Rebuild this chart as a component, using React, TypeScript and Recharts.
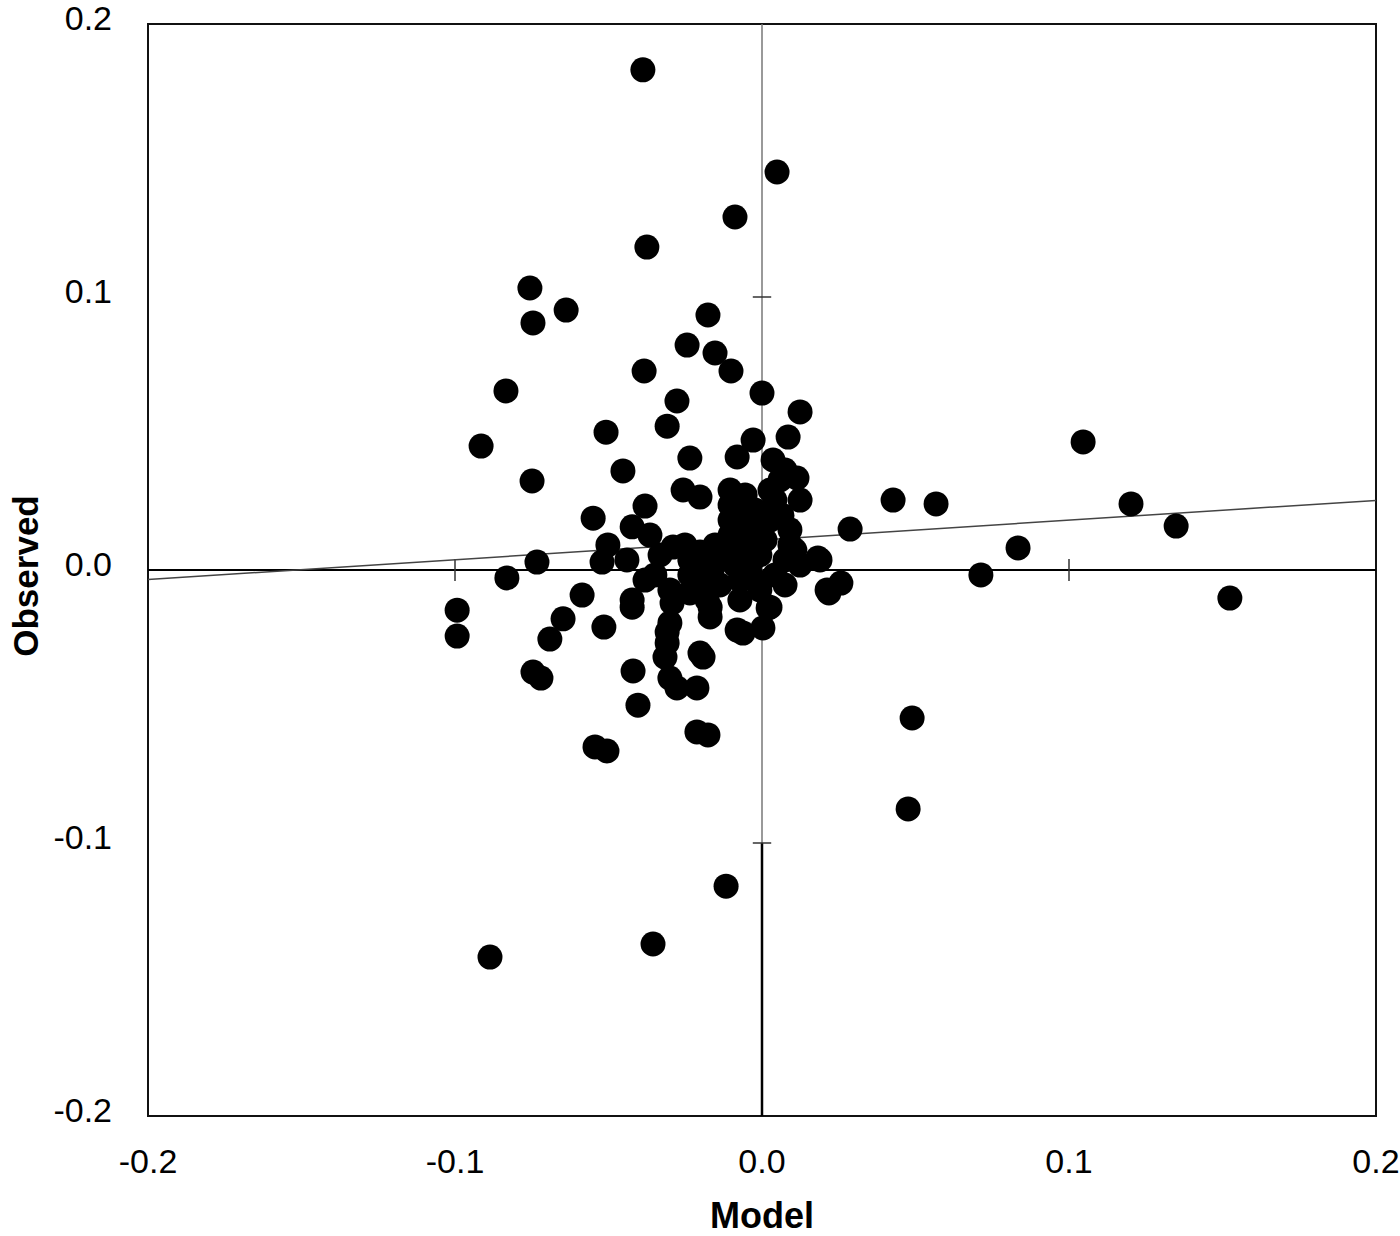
import React from "react";
import {
  ScatterChart,
  Scatter,
  XAxis,
  YAxis,
  ReferenceLine,
  ReferenceArea,
  Label,
} from "recharts";

// Model (x) values
const modelValues: number[] = [
  -0.0388, 0.0049, -0.0088, -0.0375, -0.0756, -0.0746, -0.0638, -0.0176, -0.0244, -0.0153,
  -0.0101, -0.0384, -0.0834, 0.0, -0.0277, 0.0124, -0.0309, -0.0508, -0.0915, -0.0029,
  0.1046, 0.0085, -0.0081, -0.0235, 0.0036, -0.0453, -0.0749, 0.0114, -0.0257, -0.0202,
  -0.0381, 0.0427, 0.0567, 0.1202, 0.1349, 0.0287, -0.055, -0.0423, -0.0502, -0.0365,
  -0.0733, -0.0521, -0.044, 0.0834, 0.0182, -0.0831, 0.0713, 0.0257, 0.0218, 0.1524,
  -0.0586, -0.0993, -0.0993, -0.0423, -0.0423, -0.0648, -0.0515, -0.0691, -0.0746, -0.072,
  -0.042, -0.0404, -0.0544, -0.0505, -0.0212, -0.0176, 0.0489, 0.0476, -0.0117, -0.0355,
  -0.0886, -0.03, -0.029, -0.0251, -0.0202, -0.0235, -0.0179, -0.0169, -0.03, -0.0309,
  -0.0202, -0.0081, -0.0293, -0.0169, -0.0309, -0.0062, 0.002, 0.0003, -0.0316, -0.0192,
  -0.03, -0.0277, -0.0212, 0.0189, 0.0212, 0.0026, -0.0235, -0.0349, -0.0381, -0.0104,
  -0.0104, -0.0104, -0.0104, -0.0098, -0.0088, -0.0072, -0.0055, -0.0055, -0.0046, -0.0039,
  -0.0023, -0.0007, 0.001, 0.0026, 0.0042, 0.0059, 0.0075, 0.0065, 0.0091, 0.0107,
  0.0075, 0.0042, -0.0137, -0.0163, -0.0202, -0.0235, -0.0137, -0.0007, -0.0072, 0.0075,
  0.0124, -0.0153, -0.0332, -0.0169, -0.0023, 0.0026, 0.0124, -0.0072, -0.0007, 0.0091,
  -0.0039,
];

// Observed (y) values
const observedValues: number[] = [
  0.1832, 0.1458, 0.1293, 0.1183, 0.1033, 0.0905, 0.0952, 0.0934, 0.0824, 0.0795,
  0.0729, 0.0729, 0.0656, 0.0648, 0.0619, 0.0579, 0.0527, 0.0505, 0.0454, 0.0476,
  0.0469, 0.0487, 0.0414, 0.041, 0.0403, 0.0363, 0.0326, 0.0337, 0.0293, 0.0267,
  0.0234, 0.0256, 0.0242, 0.0242, 0.0161, 0.015, 0.019, 0.0158, 0.0092, 0.0128,
  0.0029, 0.0029, 0.0037, 0.0081, 0.0044, -0.0029, -0.0018, -0.0048, -0.0084, -0.0103,
  -0.0092, -0.0147, -0.0242, -0.011, -0.0136, -0.0179, -0.0209, -0.0253, -0.0374, -0.0396,
  -0.037, -0.0495, -0.0648, -0.0663, -0.0593, -0.0604, -0.0542, -0.0875, -0.1158, -0.137,
  -0.1418, -0.0073, 0.0084, 0.0092, 0.0066, -0.0084, -0.011, -0.0172, -0.0194, -0.0267,
  -0.0304, -0.022, -0.0121, -0.0136, -0.0227, -0.0231, -0.0139, -0.0212, -0.0319, -0.0319,
  -0.0396, -0.0432, -0.0432, 0.0037, -0.0073, -0.0136, 0.0037, -0.0018, -0.0037, 0.0293,
  0.0238, 0.0183, 0.0128, 0.0073, 0.0018, -0.0037, 0.0275, 0.0183, 0.0092, 0.0018,
  -0.0037, 0.0055, 0.011, 0.0183, 0.0256, 0.033, 0.0366, 0.0201, 0.0147, 0.0073,
  0.0037, -0.0018, 0.0037, -0.0018, -0.0037, -0.0018, -0.0055, -0.0073, -0.011, -0.0055,
  0.0018, 0.0092, 0.0055, 0.0018, 0.022, 0.0293, 0.0256, 0.022, 0.0165, 0.0092,
  0.0128,
];

const axisTicks: number[] = [-0.2, -0.1, 0, 0.1, 0.2];
const innerTickValues: number[] = [-0.1, 0.1];
const regressionLine = [
  { x: -0.2, y: -0.0035 },
  { x: 0.2, y: 0.0255 },
];
const xTitle = "Model";
const yTitle = "Observed";

const FONT = "'Liberation Sans', Arial, Helvetica, sans-serif";

const points = modelValues.map((m, i) => ({ x: m, y: observedValues[i] }));

const Dot = (props: any) => (
  <circle cx={props.cx} cy={props.cy} r={12.5} fill="#000" />
);

const XTick = (props: any) => {
  const { x, y, payload } = props;
  return (
    <text
      x={x}
      y={y + 57}
      textAnchor="middle"
      fontFamily={FONT}
      fontSize={34}
      fill="#000"
    >
      {Number(payload.value).toFixed(1)}
    </text>
  );
};

const YTick = (props: any) => {
  const { x, y, payload } = props;
  return (
    <text
      x={x - 36}
      y={y + 6}
      textAnchor="end"
      fontFamily={FONT}
      fontSize={34}
      fill="#000"
    >
      {Number(payload.value).toFixed(1)}
    </text>
  );
};

const XTitle = (props: any) => {
  const vb = props.viewBox || { x: 148, y: 1116, width: 1228, height: 120 };
  return (
    <text
      x={vb.x + vb.width / 2}
      y={vb.y + 112}
      textAnchor="middle"
      fontFamily={FONT}
      fontWeight="bold"
      fontSize={36}
      fill="#000"
    >
      {xTitle}
    </text>
  );
};

const YTitle = (props: any) => {
  const vb = props.viewBox || { x: 0, y: 24, width: 148, height: 1092 };
  const cx = vb.x + 25;
  const cy = vb.y + vb.height / 2 + 6;
  return (
    <text
      x={cx}
      y={cy}
      transform={`rotate(-90, ${cx}, ${cy})`}
      textAnchor="middle"
      dominantBaseline="central"
      fontFamily={FONT}
      fontWeight="bold"
      fontSize={35}
      fill="#000"
    >
      {yTitle}
    </text>
  );
};

export default function App() {
  return (
    <div style={{ position: "absolute", left: 0, top: 0, background: "#fff" }}>
      <ScatterChart
        width={1400}
        height={1236}
        margin={{ top: 24, right: 24, bottom: 0, left: 0 }}
      >
        <XAxis
          type="number"
          dataKey="x"
          domain={[-0.2, 0.2]}
          ticks={axisTicks}
          height={120}
          axisLine={false}
          tickLine={false}
          tickSize={0}
          tickMargin={0}
          tick={<XTick />}
          interval={0}
          allowDataOverflow
        >
          <Label content={<XTitle />} />
        </XAxis>
        <YAxis
          type="number"
          dataKey="y"
          domain={[-0.2, 0.2]}
          ticks={axisTicks}
          width={148}
          axisLine={false}
          tickLine={false}
          tickSize={0}
          tickMargin={0}
          tick={<YTick />}
          interval={0}
          allowDataOverflow
        >
          <Label content={<YTitle />} />
        </YAxis>
        <ReferenceArea
          x1={-0.2}
          x2={0.2}
          y1={-0.2}
          y2={0.2}
          fill="none"
          fillOpacity={0}
          stroke="#111"
          strokeWidth={2}
        />
        <ReferenceLine y={0} stroke="#000" strokeWidth={2} />
        <ReferenceLine
          segment={[
            { x: 0, y: -0.1 },
            { x: 0, y: 0.2 },
          ]}
          stroke="#777"
          strokeWidth={1.5}
        />
        <ReferenceLine
          segment={[
            { x: 0, y: -0.2 },
            { x: 0, y: -0.1 },
          ]}
          stroke="#000"
          strokeWidth={2.5}
        />
        {innerTickValues.map((v) => (
          <ReferenceLine
            key={`xt${v}`}
            segment={[
              { x: v, y: -0.004 },
              { x: v, y: 0.004 },
            ]}
            stroke="#333"
            strokeWidth={1.5}
          />
        ))}
        {innerTickValues.map((v) => (
          <ReferenceLine
            key={`yt${v}`}
            segment={[
              { x: -0.003, y: v },
              { x: 0.003, y: v },
            ]}
            stroke="#333"
            strokeWidth={1.5}
          />
        ))}
        <ReferenceLine segment={regressionLine} stroke="#444" strokeWidth={1.5} />
        <Scatter data={points} shape={<Dot />} isAnimationActive={false} />
      </ScatterChart>
    </div>
  );
}
